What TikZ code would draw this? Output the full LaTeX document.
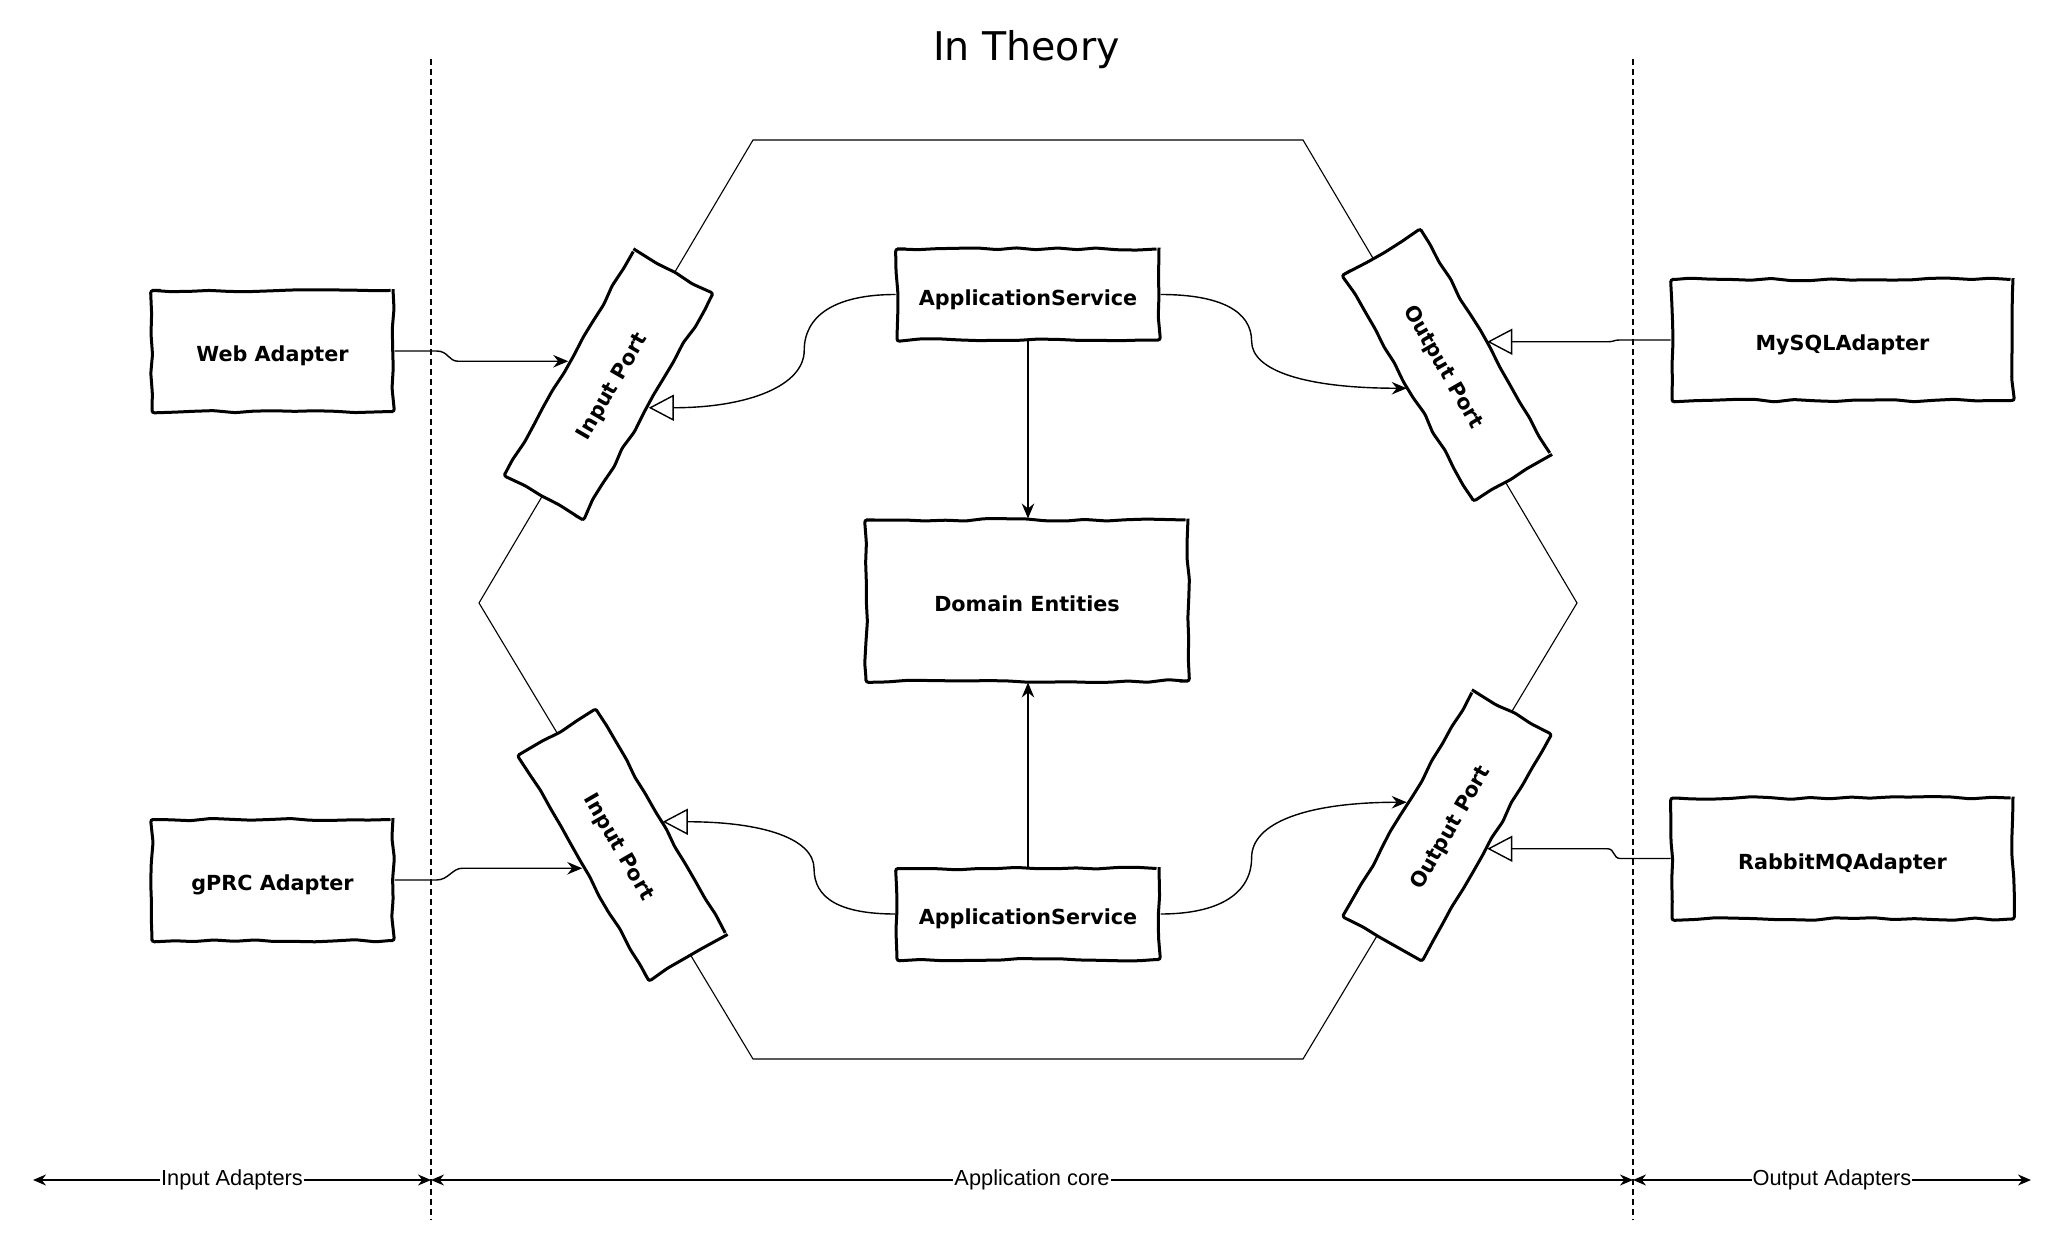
\documentclass[tikz,border=0pt]{standalone}
\usepackage{fontspec}
\setmainfont{DejaVu Sans}
\newfontfamily\helv{Liberation Sans}
\usetikzlibrary{arrows.meta,positioning,calc,decorations.pathmorphing}
\tikzset{box/.style={draw,line width=0.6mm,fill=white,inner sep=1pt,
  font=\fontsize{11.8}{14}\selectfont\bfseries,text height=1.2em,text depth=0pt,decorate,
  decoration={random steps,segment length=4mm,amplitude=0.28mm},rounded corners=0.5mm},
  port/.style={box,minimum width=52mm,minimum height=18mm},
  uses/.style={-{Stealth[length=3mm,width=2.5mm,inset=1mm]},line width=0.28mm},
  impl/.style={-{Triangle[open,length=5mm,width=5.2mm]},line width=0.28mm},
  divider/.style={dash pattern=on 1.2mm off 0.8mm,line width=0.22mm},
  span/.style={<->,>={Stealth[length=2.6mm,width=2.2mm]},line width=0.3mm},
  spanlabel/.style={font=\helv\fontsize{12.4}{14}\selectfont,fill=white,inner sep=0.6pt}}

\begin{document}
\begin{tikzpicture}[x=0.2mm,y=-0.2mm]
 \pgfmathsetseed{11}
 \fill[white] (0,0) rectangle (2068,1239);
 \useasboundingbox (0,0) rectangle (2068,1239);
 \node[font=\fontsize{22.5}{27}\selectfont,anchor=base] (title) at (1026.5,61) {In Theory};
 \draw[line width=0.22mm] (753,140) -- (1303,140) -- (1577,603) -- (1303,1059)
   -- (753,1059) -- (479,603) -- cycle;
 \coordinate (d1top) at (431,59);
 \coordinate (d1bot) at (431,1220);
 \coordinate (d2top) at (1633,59);
 \coordinate (d2bot) at (1633,1220);
 \draw[divider] (d1top) -- (d1bot);
 \draw[divider] (d2top) -- (d2bot);
 \begin{scope}
  \node[box,minimum width=48.2mm,minimum height=24.2mm] (web) at (272.5,351) {Web Adapter};
  \node[box,minimum width=48.2mm,minimum height=24.2mm] (grpc) at (272.5,880) {gPRC Adapter};
  \node[box,minimum width=68.2mm,minimum height=24.2mm] (mysql) at (1842.5,340) {MySQLAdapter};
  \node[box,minimum width=68.2mm,minimum height=24.2mm] (rabbit) at (1842.5,858.5) {RabbitMQAdapter};
 \end{scope}
 \begin{scope}
  \node[box,minimum width=52.4mm,minimum height=18.2mm] (app1) at (1028,294.5) {ApplicationService};
  \node[box,minimum width=52.4mm,minimum height=18.2mm] (app2) at (1028,914) {ApplicationService};
  \node[box,minimum width=64.4mm,minimum height=32.2mm] (dom) at (1027,600.5) {Domain Entities};
  \node[port,rotate=60] (ip1) at (608.5,384.5) {Input Port};
  \node[port,rotate=-60] (ip2) at (622.5,845) {Input Port};
  \node[port,rotate=-60] (op1) at (1447,365) {Output Port};
  \node[port,rotate=60] (op2) at (1447,825.5) {Output Port};
 \end{scope}
 \draw[uses] (web.east) -- ++(42,0) .. controls +(12,0) and +(-10,0)
   .. ($(ip1.north)+(-110,0)$) -- (ip1.north);
 \draw[uses] (grpc.east) -- ++(42,0) .. controls +(12,0) and +(-10,0)
   .. ($(ip2.south)+(-120,0)$) -- (ip2.south);
 \draw[impl] (mysql.west) -- ++(-50,0) .. controls +(-8,0) and +(8,0)
   .. ($(op1.north)+(120,0)$) -- (op1.north);
 \draw[impl] (rabbit.west) -- ++(-50,0) .. controls +(-8,0) and +(8,0)
   .. ($(op2.south)+(120,0)$) -- (op2.south);
 \draw[impl] (app1.west) .. controls +(-60,0) and +(0,-35) .. ($(app1.west)!0.37!(ip1.south)+(0,14)$)
   .. controls +(0,35) and +(100,0) .. (ip1.south);
 \draw[uses] (app1.east) .. controls +(60,0) and +(0,-30) .. ($(app1.east)!0.37!(op1.south)+(0,12)$)
   .. controls +(0,30) and +(-100,0) .. (op1.south);
 \draw[impl] (app2.west) .. controls +(-55,0) and +(0,30) .. ($(app2.west)!0.35!(ip2.north)+(0,-13)$)
   .. controls +(0,-30) and +(100,0) .. (ip2.north);
 \draw[uses] (app2.east) .. controls +(60,0) and +(0,35) .. ($(app2.east)!0.37!(op2.north)+(0,-15)$)
   .. controls +(0,-35) and +(-100,0) .. (op2.north);
 \draw[uses] (app1.south) -- (app1.south |- dom.north);
 \draw[uses] (app2.north) -- (app2.north |- dom.south);
 \coordinate (inEnd) at (33,1180);
 \coordinate (coreL) at (431,1180);
 \coordinate (coreR) at (1633,1180);
 \coordinate (outEnd) at (2031,1180);
 \draw[span] (inEnd) -- node[spanlabel] {Input Adapters} (coreL);
 \draw[span] (coreL) -- node[spanlabel] {Application core} (coreR);
 \draw[span] (coreR) -- node[spanlabel] {Output Adapters} (outEnd);
\end{tikzpicture}
\end{document}
